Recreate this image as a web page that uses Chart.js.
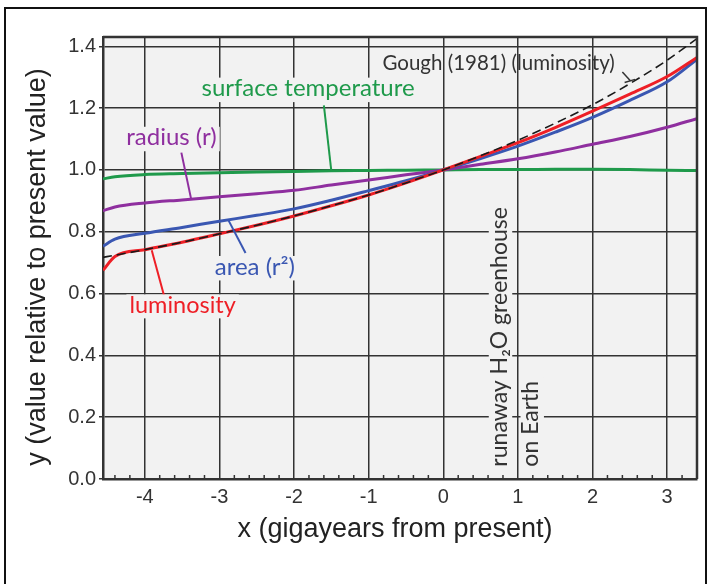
<!DOCTYPE html>
<html>
<head>
<meta charset="utf-8">
<script src="https://cdn.jsdelivr.net/npm/chart.js@4.4.1/dist/chart.umd.min.js"></script>
<style>
  html, body { margin: 0; padding: 0; background: #fff; }
  #wrap { position: relative; width: 707px; height: 584px; overflow: hidden; }
  #frame { position: absolute; left: 4px; top: 7px; width: 703px; height: 600px;
           border: 2px solid #111; box-sizing: border-box; pointer-events: none; }
  canvas { position: absolute; left: 0; top: 0; }
</style>
</head>
<body>
<div id="wrap">
  <canvas id="chart" width="707" height="584"></canvas>
  <div id="frame"></div>
</div>
<script>
/* ── data ── */
const ages        = [-4.56, -4.4, -4, -3.5, -3, -2.5, -2, -1.5, -1, -0.5, 0, 0.5, 1, 1.5, 2, 2.5, 3, 3.4];
const surfaceTemp = [0.971, 0.978, 0.985, 0.988, 0.991, 0.993, 0.995, 0.997, 0.998, 0.999, 1.0, 1.001, 1.001, 1.002, 1.002, 1.001, 0.999, 0.998];
const radius      = [0.868, 0.880, 0.893, 0.903, 0.913, 0.923, 0.934, 0.951, 0.967, 0.984, 1.0, 1.018, 1.036, 1.058, 1.083, 1.108, 1.138, 1.166];
const area        = [0.753, 0.776, 0.795, 0.814, 0.834, 0.853, 0.874, 0.902, 0.933, 0.965, 1.0, 1.037, 1.077, 1.122, 1.170, 1.225, 1.285, 1.358];
const luminosity  = [0.675, 0.720, 0.742, 0.766, 0.793, 0.821, 0.851, 0.884, 0.919, 0.958, 1.0, 1.044, 1.088, 1.137, 1.190, 1.245, 1.302, 1.364];
const gough1981   = [0.717, 0.724, 0.742, 0.766, 0.793, 0.821, 0.851, 0.884, 0.919, 0.958, 1.0, 1.046, 1.096, 1.151, 1.211, 1.279, 1.355, 1.425];

const xTicks      = [-4, -3, -2, -1, 0, 1, 2, 3];
const xTickLabels = ['-4', '-3', '-2', '-1', '0', '1', '2', '3'];
const yTicks      = [0, 0.2, 0.4, 0.6, 0.8, 1.0, 1.2, 1.4];
const yTickLabels = ['0.0', '0.2', '0.4', '0.6', '0.8', '1.0', '1.2', '1.4'];

const GREEN = '#1f9a4b', PURPLE = '#8f2f9f', BLUE = '#3a57b2', RED = '#ee1f26', DARK = '#222';
const PLOT_BG = '#f2f2f2';
const LABEL_FONT = 'Lato, "Open Sans", sans-serif';
const AXIS_FONT = '"Liberation Sans", Arial, sans-serif';

/* curve labels, anchored in data units */
const labels = [
  { text: 'Gough (1981) (luminosity)', at: [-0.815, 1.3225], color: '#333', size: 20.5 },
  { text: 'surface temperature', at: [-3.24, 1.238], color: GREEN, size: 24, bg: true },
  { text: 'radius (r)', at: [-4.248, 1.079], color: PURPLE, size: 24, bg: true },
  { text: 'area (r\u00B2)', at: [-3.063, 0.661], color: BLUE, size: 24, bg: true },
  { text: 'luminosity', at: [-4.206, 0.538], color: RED, size: 23.5, bg: true },
  { text: 'runaway H\u2082O greenhouse', at: [0.85, 0.04], color: '#333', size: 23, bg: true, vertical: true },
  { text: 'on Earth', at: [1.275, 0.04], color: '#333', size: 23, bg: true, vertical: true },
];

/* leader lines from labels to curves */
const leaders = [
  { color: '#333', width: 1.5, from: [2.40, 1.317], to: [2.51, 1.288] },
  { color: '#333', width: 1.5, from: [2.43, 1.283], to: [2.57, 1.293] },
  { color: GREEN,  width: 2,   from: [-1.60, 1.209], to: [-1.50, 0.996] },
  { color: PURPLE, width: 2,   from: [-3.51, 1.056], to: [-3.38, 0.907] },
  { color: BLUE,   width: 2,   from: [-2.885, 0.84], to: [-2.65, 0.731] },
  { color: RED,    width: 2,   from: [-3.907, 0.74], to: [-3.727, 0.58] },
];

const series = (ys) => ages.map((x, i) => ({ x, y: ys[i] }));

/* background, minor ticks, frame, labels and titles */
const decor = {
  id: 'decor',
  beforeDraw(chart) {
    const { ctx, chartArea: a } = chart;
    ctx.save();
    ctx.fillStyle = PLOT_BG;
    ctx.fillRect(a.left, a.top, a.right - a.left, a.bottom - a.top);
    ctx.restore();
  },
  afterDatasetsDraw(chart) {
    const { ctx, chartArea: a, scales } = chart;
    const X = v => scales.x.getPixelForValue(v);
    const Y = v => scales.y.getPixelForValue(v);
    ctx.save();

    // minor ticks along the bottom axis
    ctx.strokeStyle = '#333';
    ctx.lineWidth = 1.5;
    for (let i = -22; i <= 17; i++) {
      if (i % 5 === 0) continue;
      const px = X(i * 0.2);
      if (px <= a.left || px >= a.right) continue;
      ctx.beginPath();
      ctx.moveTo(px, a.bottom);
      ctx.lineTo(px, a.bottom - 4);
      ctx.stroke();
    }

    // top and right edges of the plot box
    ctx.lineWidth = 2.5;
    ctx.beginPath();
    ctx.moveTo(a.left, a.top);
    ctx.lineTo(a.right, a.top);
    ctx.lineTo(a.right, a.bottom);
    ctx.stroke();

    // leader lines
    ctx.lineCap = 'butt';
    leaders.forEach(l => {
      ctx.strokeStyle = l.color;
      ctx.lineWidth = l.width;
      ctx.beginPath();
      ctx.moveTo(X(l.from[0]), Y(l.from[1]));
      ctx.lineTo(X(l.to[0]), Y(l.to[1]));
      ctx.stroke();
    });

    // labels
    labels.forEach(l => {
      ctx.save();
      ctx.font = `${l.size}px ${LABEL_FONT}`;
      ctx.textAlign = 'left';
      ctx.textBaseline = 'alphabetic';
      ctx.translate(X(l.at[0]), Y(l.at[1]));
      if (l.vertical) ctx.rotate(-Math.PI / 2);
      if (l.bg) {
        const w = ctx.measureText(l.text).width;
        ctx.fillStyle = PLOT_BG;
        ctx.fillRect(-3, -l.size * 0.78, w + 6, l.size * 1.02);
      }
      ctx.fillStyle = l.color;
      ctx.fillText(l.text, 0, 0);
      ctx.restore();
    });
    ctx.restore();
  },
  afterDraw(chart) {
    const { ctx } = chart;
    ctx.save();
    ctx.fillStyle = DARK;
    ctx.font = `27px ${AXIS_FONT}`;
    ctx.textAlign = 'center';
    ctx.textBaseline = 'middle';
    ctx.fillText('x (gigayears from present)', 395, 530);
    ctx.translate(38, 267);
    ctx.rotate(-Math.PI / 2);
    ctx.fillText('y (value relative to present value)', 0, 0);
    ctx.restore();
  },
};

new Chart(document.getElementById('chart'), {
  type: 'line',
  data: {
    datasets: [
      { label: 'Gough (1981) (luminosity)', data: series(gough1981), borderColor: '#1a1a1a',
        borderWidth: 1.6, borderDash: [9, 5] },
      { label: 'luminosity', data: series(luminosity), borderColor: RED, borderWidth: 3 },
      { label: 'area (r²)', data: series(area), borderColor: BLUE, borderWidth: 3 },
      { label: 'radius (r)', data: series(radius), borderColor: PURPLE, borderWidth: 3 },
      { label: 'surface temperature', data: series(surfaceTemp), borderColor: GREEN, borderWidth: 3 },
    ],
  },
  options: {
    responsive: false,
    animation: false,
    events: [],
    layout: { padding: { top: 37, right: 10, left: 0, bottom: 0 } },
    elements: { point: { radius: 0 }, line: { cubicInterpolationMode: 'monotone', fill: false } },
    plugins: { legend: { display: false }, tooltip: { enabled: false } },
    scales: {
      x: {
        type: 'linear',
        min: -4.56, max: 3.4,
        afterBuildTicks: s => { s.ticks = xTicks.map(v => ({ value: v })); },
        afterFit: s => { s.height = 105; },
        grid: { color: '#333', lineWidth: 1.5, drawTicks: false },
        border: { color: '#333', width: 2.5 },
        ticks: {
          padding: 6, color: '#333', maxRotation: 0,
          font: { family: AXIS_FONT, size: 20 },
          callback: (v, i) => xTickLabels[i],
        },
      },
      y: {
        min: 0, max: 1.43,
        afterBuildTicks: s => { s.ticks = yTicks.map(v => ({ value: v })); },
        afterFit: s => { s.width = 103; },
        grid: { color: '#333', lineWidth: 1.5, tickLength: 4 },
        border: { color: '#333', width: 2.5 },
        ticks: {
          padding: 3, color: '#333',
          font: { family: AXIS_FONT, size: 20 },
          callback: (v, i) => yTickLabels[i],
        },
      },
    },
  },
  plugins: [decor],
});
</script>
</body>
</html>
